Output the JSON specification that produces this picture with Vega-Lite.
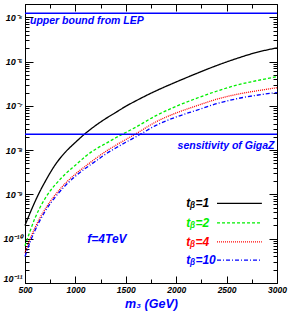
{
  "$schema": "https://vega.github.io/schema/vega-lite/v6.json",
  "width": 252,
  "height": 279,
  "autosize": "none",
  "padding": {"left": 25, "top": 4, "right": 12, "bottom": 29},
  "background": "white",
  "config": {"view": {"stroke": "black", "strokeWidth": 1}, "font": "Liberation Sans"},
  "datasets": {
    "curves": [
      {"tb": "1", "m3": 500, "ratio": 2.0e-10},
      {"tb": "1", "m3": 550, "ratio": 3.8e-10},
      {"tb": "1", "m3": 600, "ratio": 6.92e-10},
      {"tb": "1", "m3": 650, "ratio": 1.2e-9},
      {"tb": "1", "m3": 700, "ratio": 1.95e-9},
      {"tb": "1", "m3": 750, "ratio": 3.09e-9},
      {"tb": "1", "m3": 800, "ratio": 4.68e-9},
      {"tb": "1", "m3": 900, "ratio": 9.0e-9},
      {"tb": "1", "m3": 1000, "ratio": 1.5e-8},
      {"tb": "1", "m3": 1100, "ratio": 2.4e-8},
      {"tb": "1", "m3": 1200, "ratio": 3.6e-8},
      {"tb": "1", "m3": 1300, "ratio": 5.15e-8},
      {"tb": "1", "m3": 1400, "ratio": 7.1e-8},
      {"tb": "1", "m3": 1500, "ratio": 9.8e-8},
      {"tb": "1", "m3": 1600, "ratio": 1.3e-7},
      {"tb": "1", "m3": 1800, "ratio": 2.19e-7},
      {"tb": "1", "m3": 2000, "ratio": 3.47e-7},
      {"tb": "1", "m3": 2200, "ratio": 5.37e-7},
      {"tb": "1", "m3": 2400, "ratio": 8.13e-7},
      {"tb": "1", "m3": 2600, "ratio": 1.175e-6},
      {"tb": "1", "m3": 2800, "ratio": 1.62e-6},
      {"tb": "1", "m3": 3000, "ratio": 2.04e-6},
      {"tb": "2", "m3": 500, "ratio": 6.92e-11},
      {"tb": "2", "m3": 550, "ratio": 1.48e-10},
      {"tb": "2", "m3": 600, "ratio": 2.95e-10},
      {"tb": "2", "m3": 650, "ratio": 5.13e-10},
      {"tb": "2", "m3": 700, "ratio": 8.13e-10},
      {"tb": "2", "m3": 750, "ratio": 1.2e-9},
      {"tb": "2", "m3": 800, "ratio": 1.66e-9},
      {"tb": "2", "m3": 900, "ratio": 2.88e-9},
      {"tb": "2", "m3": 1000, "ratio": 4.57e-9},
      {"tb": "2", "m3": 1100, "ratio": 7.24e-9},
      {"tb": "2", "m3": 1200, "ratio": 1.05e-8},
      {"tb": "2", "m3": 1300, "ratio": 1.41e-8},
      {"tb": "2", "m3": 1400, "ratio": 1.905e-8},
      {"tb": "2", "m3": 1500, "ratio": 2.51e-8},
      {"tb": "2", "m3": 1600, "ratio": 3.31e-8},
      {"tb": "2", "m3": 1800, "ratio": 6.03e-8},
      {"tb": "2", "m3": 2000, "ratio": 9.77e-8},
      {"tb": "2", "m3": 2200, "ratio": 1.48e-7},
      {"tb": "2", "m3": 2400, "ratio": 2.14e-7},
      {"tb": "2", "m3": 2600, "ratio": 2.95e-7},
      {"tb": "2", "m3": 2800, "ratio": 3.72e-7},
      {"tb": "2", "m3": 3000, "ratio": 4.57e-7},
      {"tb": "4", "m3": 500, "ratio": 4.79e-11},
      {"tb": "4", "m3": 550, "ratio": 9.77e-11},
      {"tb": "4", "m3": 600, "ratio": 1.78e-10},
      {"tb": "4", "m3": 650, "ratio": 3.02e-10},
      {"tb": "4", "m3": 700, "ratio": 4.68e-10},
      {"tb": "4", "m3": 750, "ratio": 6.92e-10},
      {"tb": "4", "m3": 800, "ratio": 9.77e-10},
      {"tb": "4", "m3": 900, "ratio": 1.78e-9},
      {"tb": "4", "m3": 1000, "ratio": 2.88e-9},
      {"tb": "4", "m3": 1100, "ratio": 4.37e-9},
      {"tb": "4", "m3": 1200, "ratio": 6.46e-9},
      {"tb": "4", "m3": 1300, "ratio": 9.33e-9},
      {"tb": "4", "m3": 1400, "ratio": 1.29e-8},
      {"tb": "4", "m3": 1500, "ratio": 1.74e-8},
      {"tb": "4", "m3": 1600, "ratio": 2.34e-8},
      {"tb": "4", "m3": 1800, "ratio": 4.37e-8},
      {"tb": "4", "m3": 2000, "ratio": 6.92e-8},
      {"tb": "4", "m3": 2200, "ratio": 1.0e-7},
      {"tb": "4", "m3": 2400, "ratio": 1.41e-7},
      {"tb": "4", "m3": 2600, "ratio": 1.82e-7},
      {"tb": "4", "m3": 2800, "ratio": 2.19e-7},
      {"tb": "4", "m3": 3000, "ratio": 2.57e-7},
      {"tb": "10", "m3": 500, "ratio": 3.98e-11},
      {"tb": "10", "m3": 550, "ratio": 8.32e-11},
      {"tb": "10", "m3": 600, "ratio": 1.55e-10},
      {"tb": "10", "m3": 650, "ratio": 2.63e-10},
      {"tb": "10", "m3": 700, "ratio": 4.17e-10},
      {"tb": "10", "m3": 750, "ratio": 6.17e-10},
      {"tb": "10", "m3": 800, "ratio": 8.71e-10},
      {"tb": "10", "m3": 900, "ratio": 1.585e-9},
      {"tb": "10", "m3": 1000, "ratio": 2.57e-9},
      {"tb": "10", "m3": 1100, "ratio": 3.89e-9},
      {"tb": "10", "m3": 1200, "ratio": 5.62e-9},
      {"tb": "10", "m3": 1300, "ratio": 8.13e-9},
      {"tb": "10", "m3": 1400, "ratio": 1.12e-8},
      {"tb": "10", "m3": 1500, "ratio": 1.51e-8},
      {"tb": "10", "m3": 1600, "ratio": 2.0e-8},
      {"tb": "10", "m3": 1800, "ratio": 3.63e-8},
      {"tb": "10", "m3": 2000, "ratio": 5.62e-8},
      {"tb": "10", "m3": 2200, "ratio": 7.94e-8},
      {"tb": "10", "m3": 2400, "ratio": 1.12e-7},
      {"tb": "10", "m3": 2600, "ratio": 1.45e-7},
      {"tb": "10", "m3": 2800, "ratio": 1.74e-7},
      {"tb": "10", "m3": 3000, "ratio": 2.0e-7}
    ],
    "bounds": [
      {"name": "upper bound from LEP", "ratio": 1.23e-5},
      {"name": "sensitivity of GigaZ", "ratio": 2.3e-8}
    ],
    "legend": [
      {"tb": "1", "label": "tᵦ=1", "m3_text": 2100, "m3_from": 2405, "m3_to": 2850, "ratio": 6.3e-10},
      {"tb": "2", "label": "tᵦ=2", "m3_text": 2100, "m3_from": 2405, "m3_to": 2850, "ratio": 2.29e-10},
      {"tb": "4", "label": "tᵦ=4", "m3_text": 2100, "m3_from": 2405, "m3_to": 2850, "ratio": 8.5e-11},
      {"tb": "10", "label": "tᵦ=10", "m3_text": 2100, "m3_from": 2405, "m3_to": 2850, "ratio": 3.3e-11}
    ]
  },
  "resolve": {"axis": {"x": "independent", "y": "independent"}},
  "layer": [
    {
      "data": {"name": "curves"},
      "mark": {"type": "line", "strokeWidth": 1.3, "interpolate": "monotone"},
      "encoding": {
        "x": {
          "field": "m3", "type": "quantitative",
          "scale": {"domain": [500, 3000], "nice": false, "zero": false},
          "axis": {
            "orient": "bottom",
            "values": [500, 750, 1000, 1250, 1500, 1750, 2000, 2250, 2500, 2750, 3000],
            "format": "d",
            "labelExpr": "datum.value % 500 == 0 ? datum.label : ''",
            "tickSize": {"condition": {"test": "datum.value % 500 == 0", "value": -7}, "value": -4},
            "tickColor": "black", "domainColor": "black", "grid": false,
            "labelFont": "Liberation Sans", "labelFontStyle": "italic", "labelFontWeight": "bold",
            "labelFontSize": 8.5, "labelColor": "black", "labelPadding": 9, "labelFlush": false, "labelOverlap": false,
            "title": "m₃ (GeV)", "titleColor": "#0000ff", "titleFont": "Liberation Sans",
            "titleFontSize": 12.5, "titleFontStyle": "italic", "titleFontWeight": "bold", "titlePadding": 1
          }
        },
        "y": {
          "field": "ratio", "type": "quantitative",
          "scale": {"type": "log", "domain": [1e-11, 2e-5], "nice": false},
          "axis": {
            "orient": "left",
            "values": [1e-11, 2e-11, 3e-11, 4e-11, 5e-11, 6e-11, 7e-11, 8e-11, 9e-11,
                       1e-10, 2e-10, 3e-10, 4e-10, 5e-10, 6e-10, 7e-10, 8e-10, 9e-10,
                       1e-9, 2e-9, 3e-9, 4e-9, 5e-9, 6e-9, 7e-9, 8e-9, 9e-9,
                       1e-8, 2e-8, 3e-8, 4e-8, 5e-8, 6e-8, 7e-8, 8e-8, 9e-8,
                       1e-7, 2e-7, 3e-7, 4e-7, 5e-7, 6e-7, 7e-7, 8e-7, 9e-7,
                       1e-6, 2e-6, 3e-6, 4e-6, 5e-6, 6e-6, 7e-6, 8e-6, 9e-6,
                       1e-5, 2e-5],
            "labelExpr": "abs(log(datum.value)/LN10 - round(log(datum.value)/LN10)) < 0.01 ? (datum.value > 5e-6 ? '10⁻⁵' : datum.value > 5e-7 ? '10⁻⁶' : datum.value > 5e-8 ? '10⁻⁷' : datum.value > 5e-9 ? '10⁻⁸' : datum.value > 5e-10 ? '10⁻⁹' : datum.value > 5e-11 ? '10⁻¹⁰' : '10⁻¹¹') : ''",
            "labelBaseline": {"condition": {"test": "datum.value < 2e-11", "value": "bottom"}, "value": "middle"},
            "tickSize": {"condition": {"test": "abs(log(datum.value)/LN10 - round(log(datum.value)/LN10)) < 0.01", "value": -8}, "value": -4},
            "tickColor": "black", "domainColor": "black", "grid": false,
            "labelFont": "Liberation Sans", "labelFontStyle": "italic", "labelFontWeight": "bold",
            "labelFontSize": 9, "labelColor": "black", "labelPadding": 11, "labelFlush": false, "labelOverlap": false,
            "title": null
          }
        },
        "color": {"field": "tb", "type": "nominal", "scale": {"domain": ["1", "2", "4", "10"], "range": ["#000000", "#00ee00", "#ff0000", "#0000ff"]}, "legend": null},
        "strokeDash": {"field": "tb", "type": "nominal", "scale": {"domain": ["1", "2", "4", "10"], "range": [[1, 0], [3, 2], [1, 1], [4, 2, 1, 2]]}, "legend": null}
      }
    },
    {
      "data": {"name": "bounds"},
      "mark": {"type": "rule", "color": "#0000ff", "strokeWidth": 1.5},
      "encoding": {
        "y": {"field": "ratio", "type": "quantitative", "axis": null}
      }
    },
    {
      "data": {"name": "legend"},
      "mark": {"type": "rule", "strokeWidth": 1.3},
      "encoding": {
        "x": {"field": "m3_from", "type": "quantitative",
          "axis": {"orient": "top", "values": [500, 750, 1000, 1250, 1500, 1750, 2000, 2250, 2500, 2750, 3000],
            "labels": false, "domain": false, "grid": false, "title": null, "tickColor": "black",
            "tickSize": {"condition": {"test": "datum.value % 500 == 0", "value": -7}, "value": -4}}},
        "x2": {"field": "m3_to"},
        "y": {"field": "ratio", "type": "quantitative",
          "axis": {"orient": "right",
            "values": [1e-11, 2e-11, 3e-11, 4e-11, 5e-11, 6e-11, 7e-11, 8e-11, 9e-11,
                       1e-10, 2e-10, 3e-10, 4e-10, 5e-10, 6e-10, 7e-10, 8e-10, 9e-10,
                       1e-9, 2e-9, 3e-9, 4e-9, 5e-9, 6e-9, 7e-9, 8e-9, 9e-9,
                       1e-8, 2e-8, 3e-8, 4e-8, 5e-8, 6e-8, 7e-8, 8e-8, 9e-8,
                       1e-7, 2e-7, 3e-7, 4e-7, 5e-7, 6e-7, 7e-7, 8e-7, 9e-7,
                       1e-6, 2e-6, 3e-6, 4e-6, 5e-6, 6e-6, 7e-6, 8e-6, 9e-6,
                       1e-5, 2e-5],
            "labels": false, "domain": false, "grid": false, "title": null, "tickColor": "black",
            "tickSize": {"condition": {"test": "abs(log(datum.value)/LN10 - round(log(datum.value)/LN10)) < 0.01", "value": -8}, "value": -4}}},
        "color": {"field": "tb", "type": "nominal", "legend": null},
        "strokeDash": {"field": "tb", "type": "nominal", "legend": null}
      }
    },
    {
      "data": {"name": "legend"},
      "mark": {"type": "text", "align": "left", "baseline": "middle", "font": "Liberation Sans", "fontStyle": "italic", "fontWeight": "bold", "fontSize": 12},
      "encoding": {
        "x": {"field": "m3_text", "type": "quantitative", "axis": null},
        "y": {"field": "ratio", "type": "quantitative", "axis": null},
        "text": {"field": "label"},
        "color": {"field": "tb", "type": "nominal", "legend": null}
      }
    },
    {
      "data": {"values": [{"note": "upper bound from LEP", "m3": 550, "ratio": 8.1e-6}]},
      "mark": {"type": "text", "align": "left", "baseline": "middle", "color": "#0000ff", "font": "Liberation Sans", "fontStyle": "italic", "fontWeight": "bold", "fontSize": 10.5},
      "encoding": {
        "x": {"field": "m3", "type": "quantitative", "axis": null},
        "y": {"field": "ratio", "type": "quantitative", "axis": null},
        "text": {"field": "note"}
      }
    },
    {
      "data": {"values": [{"note": "sensitivity of GigaZ", "m3": 2975, "ratio": 1.23e-8}]},
      "mark": {"type": "text", "align": "right", "baseline": "middle", "color": "#0000ff", "font": "Liberation Sans", "fontStyle": "italic", "fontWeight": "bold", "fontSize": 10.5},
      "encoding": {
        "x": {"field": "m3", "type": "quantitative", "axis": null},
        "y": {"field": "ratio", "type": "quantitative", "axis": null},
        "text": {"field": "note"}
      }
    },
    {
      "data": {"values": [{"note": "f=4TeV", "m3": 1313, "ratio": 1.0e-10}]},
      "mark": {"type": "text", "align": "center", "baseline": "middle", "color": "#0000ff", "font": "Liberation Sans", "fontStyle": "italic", "fontWeight": "bold", "fontSize": 12},
      "encoding": {
        "x": {"field": "m3", "type": "quantitative", "axis": null},
        "y": {"field": "ratio", "type": "quantitative", "axis": null},
        "text": {"field": "note"}
      }
    }
  ]
}
